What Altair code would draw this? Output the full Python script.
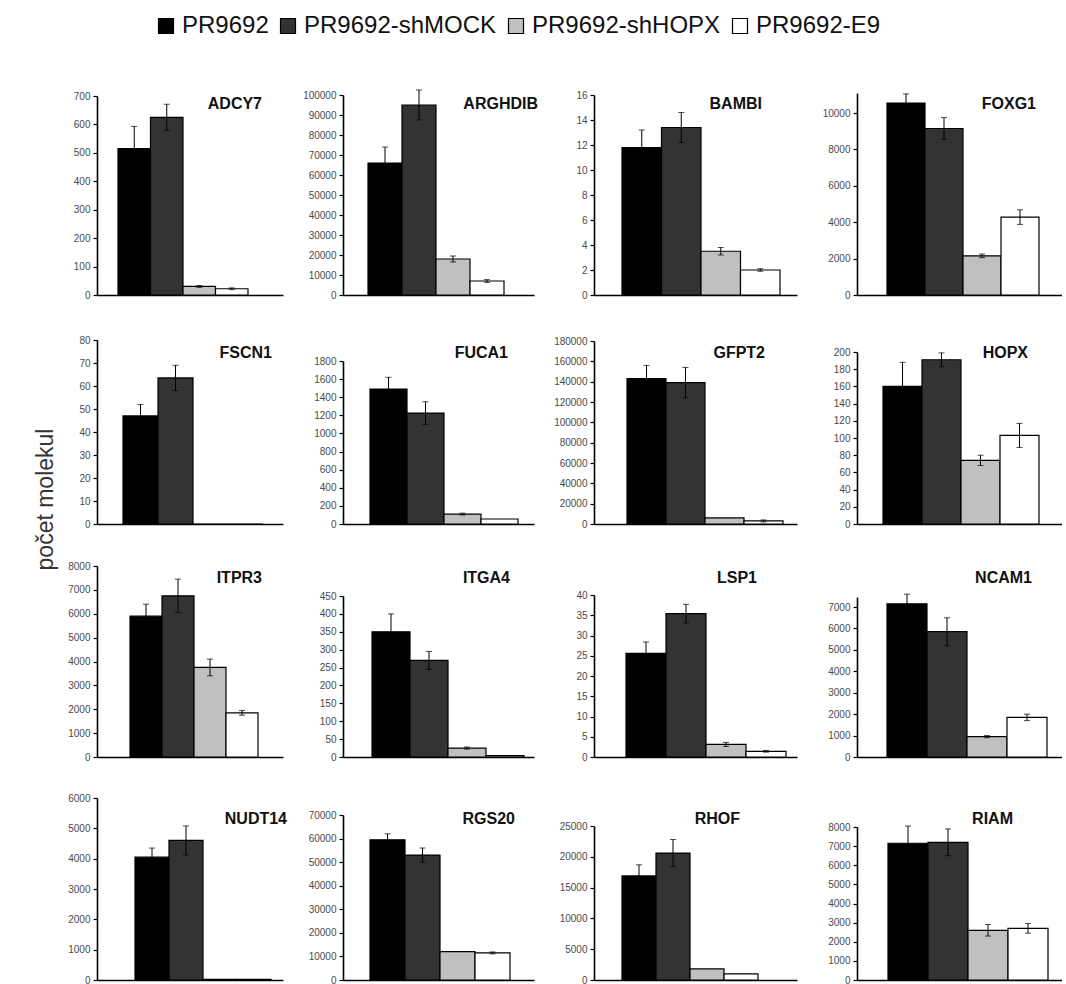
import altair as alt
import pandas as pd

# ---- data -------------------------------------------------------------
groups = ["PR9692", "PR9692-shMOCK", "PR9692-shHOPX", "PR9692-E9"]
fill_colors = ["#000000", "#333333", "#c0c0c0", "#ffffff"]

gene_rows = [
    ["ADCY7", "ARGHDIB", "BAMBI", "FOXG1"],
    ["FSCN1", "FUCA1", "GFPT2", "HOPX"],
    ["ITPR3", "ITGA4", "LSP1", "NCAM1"],
    ["NUDT14", "RGS20", "RHOF", "RIAM"],
]

# mean number of molecules per cell line (order as in `groups`)
means = {
    "ADCY7": [515, 625, 30, 22],
    "ARGHDIB": [66000, 95000, 18000, 7000],
    "BAMBI": [11.8, 13.4, 3.5, 2.0],
    "FOXG1": [10550, 9150, 2150, 4280],
    "FSCN1": [47, 63.5, 0, 0],
    "FUCA1": [1490, 1225, 110, 55],
    "GFPT2": [143000, 139000, 6000, 3000],
    "HOPX": [160, 191, 74, 103],
    "ITPR3": [5900, 6750, 3750, 1850],
    "ITGA4": [350, 270, 25, 4],
    "LSP1": [25.6, 35.4, 3.1, 1.4],
    "NCAM1": [7150, 5850, 950, 1850],
    "NUDT14": [4050, 4600, 20, 20],
    "RGS20": [59500, 53000, 12000, 11500],
    "RHOF": [16900, 20600, 1800, 1000],
    "RIAM": [7150, 7200, 2600, 2700],
}

# standard deviations
errors = {
    "ADCY7": [78, 46, 3, 3],
    "ARGHDIB": [8000, 7500, 1500, 700],
    "BAMBI": [1.4, 1.2, 0.3, 0.1],
    "FOXG1": [500, 600, 100, 400],
    "FSCN1": [5, 5.5, 0, 0],
    "FUCA1": [130, 125, 10, 0],
    "GFPT2": [13000, 15000, 0, 1000],
    "HOPX": [28, 8, 6, 14],
    "ITPR3": [500, 700, 350, 100],
    "ITGA4": [50, 25, 3, 0],
    "LSP1": [2.8, 2.3, 0.5, 0.2],
    "NCAM1": [450, 650, 50, 150],
    "NUDT14": [300, 480, 0, 0],
    "RGS20": [2500, 3000, 0, 400],
    "RHOF": [1800, 2200, 0, 0],
    "RIAM": [900, 700, 300, 250],
}

# y axis extent and tick spacing
axis_max = {
    "ADCY7": 700, "ARGHDIB": 100000, "BAMBI": 16, "FOXG1": 11100,
    "FSCN1": 80, "FUCA1": 1800, "GFPT2": 180000, "HOPX": 200,
    "ITPR3": 8000, "ITGA4": 450, "LSP1": 40, "NCAM1": 7470,
    "NUDT14": 6000, "RGS20": 70000, "RHOF": 25000, "RIAM": 8000,
}
tick_step = {
    "ADCY7": 100, "ARGHDIB": 10000, "BAMBI": 2, "FOXG1": 2000,
    "FSCN1": 10, "FUCA1": 200, "GFPT2": 20000, "HOPX": 20,
    "ITPR3": 1000, "ITGA4": 50, "LSP1": 5, "NCAM1": 1000,
    "NUDT14": 1000, "RGS20": 10000, "RHOF": 5000, "RIAM": 1000,
}

# ---- layout -----------------------------------------------------------
col_widths = [186, 191, 203, 205]
row_heights = [205, 209, 213, 203]
col_gap = 60
row_gap = 20
label_y = [14, 38, 34, 42]          # gene name position below the cell top

# plot height of each panel (px)
plot_h = {
    "ADCY7": 199, "ARGHDIB": 200, "BAMBI": 200, "FOXG1": 202,
    "FSCN1": 184, "FUCA1": 163, "GFPT2": 183, "HOPX": 172,
    "ITPR3": 191, "ITGA4": 161, "LSP1": 162, "NCAM1": 160,
    "NUDT14": 182, "RGS20": 165, "RHOF": 154, "RIAM": 153,
}
# first bar offset and bar width (px)
bar_start = {
    "ADCY7": 21, "ARGHDIB": 25, "BAMBI": 28, "FOXG1": 30,
    "FSCN1": 26, "FUCA1": 27, "GFPT2": 33, "HOPX": 26,
    "ITPR3": 33, "ITGA4": 29, "LSP1": 32, "NCAM1": 30,
    "NUDT14": 38, "RGS20": 27, "RHOF": 28, "RIAM": 31,
}
bar_width = {
    "ADCY7": 32.5, "ARGHDIB": 34, "BAMBI": 39.5, "FOXG1": 38,
    "FSCN1": 35, "FUCA1": 37, "GFPT2": 39, "HOPX": 39,
    "ITPR3": 32, "ITGA4": 38, "LSP1": 40, "NCAM1": 40,
    "NUDT14": 34, "RGS20": 35, "RHOF": 34, "RIAM": 40,
}
# right edge of the gene name (px from the plot's left edge)
label_x = {
    "ADCY7": 165, "ARGHDIB": 195, "BAMBI": 168, "FOXG1": 179,
    "FSCN1": 175, "FUCA1": 165, "GFPT2": 171, "HOPX": 171,
    "ITPR3": 165, "ITGA4": 167, "LSP1": 163, "NCAM1": 175,
    "NUDT14": 190, "RGS20": 172, "RHOF": 146, "RIAM": 156,
}

FONT = "Liberation Sans"

legend = alt.Legend(
    orient="none", legendX=57, legendY=-76, direction="horizontal",
    title=None, symbolType="square", symbolSize=225,
    symbolStrokeColor="black", symbolStrokeWidth=1.2, symbolOpacity=1,
    labelFont=FONT, labelFontSize=24, labelColor="#111111",
    labelOffset=4, columnPadding=7, labelLimit=400,
)
color_scale = alt.Scale(domain=groups, range=fill_colors)


def panel(gene, row, col):
    W = col_widths[col]
    H = row_heights[row]
    h = plot_h[gene]
    bw = max(bar_width[gene], W / 6.0)
    pad_outer = min(1.0, (W / bw - 4) / 2)
    bw = W / (4 + 2 * pad_outer)
    spare = W - 4 * bw
    align = min(1.0, max(0.0, bar_start[gene] / spare)) if spare > 0 else 0.5

    df = pd.DataFrame({"group": groups, "mean": means[gene], "err": errors[gene]})
    df["lo"] = df["mean"] - df["err"]
    df["hi"] = df["mean"] + df["err"]
    err_df = df[df["err"] > 0]

    top = axis_max[gene]
    step = tick_step[gene]
    ticks = list(range(0, int(top) + 1, step))

    x_scale = alt.Scale(domain=groups, paddingInner=0, paddingOuter=pad_outer, align=align)
    x_axis = alt.Axis(labels=False, ticks=False, title=None, grid=False,
                      domainColor="black", domainWidth=1.6)
    y_scale = alt.Scale(domain=[0, top], range=[H, H - h], nice=False, zero=True)
    y_axis = alt.Axis(
        values=ticks, format="d", title=None, grid=False,
        domainColor="black", domainWidth=1.6, tickColor="black", tickWidth=1.2,
        tickSize=4, labelFont=FONT, labelFontSize=10, labelColor="#4a4a4a",
        labelPadding=3,
    )

    def xenc():
        return alt.X("group:N", scale=x_scale, axis=x_axis, sort=groups)

    bars = alt.Chart(df).mark_bar(stroke="black", strokeWidth=1.2).encode(
        x=xenc(),
        y=alt.Y("mean:Q", scale=y_scale, axis=y_axis),
        color=alt.Color("group:N", scale=color_scale, legend=legend, sort=groups),
    )
    whisker = alt.Chart(err_df).mark_rule(color="black", strokeWidth=1).encode(
        x=xenc(),
        y=alt.Y("lo:Q", scale=y_scale, axis=y_axis),
        y2="hi:Q",
    )
    cap_hi = alt.Chart(err_df).mark_tick(color="black", size=6, thickness=1, orient="horizontal").encode(
        x=xenc(),
        y=alt.Y("hi:Q", scale=y_scale, axis=y_axis),
    )
    cap_lo = alt.Chart(err_df).mark_tick(color="black", size=6, thickness=1, orient="horizontal").encode(
        x=xenc(),
        y=alt.Y("lo:Q", scale=y_scale, axis=y_axis),
    )
    name = alt.Chart(pd.DataFrame({"gene": [gene]})).mark_text(
        font=FONT, fontSize=16, fontWeight="bold", align="right", baseline="middle", color="#111111",
    ).encode(
        text="gene:N",
        x=alt.value(label_x[gene]),
        y=alt.value(label_y[row]),
    )
    return alt.layer(bars, whisker, cap_hi, cap_lo, name).properties(width=W, height=H)


panels = [panel(g, r, c) for r, genes in enumerate(gene_rows) for c, g in enumerate(genes)]

chart = (
    alt.concat(
        *panels, columns=4, spacing={"row": row_gap, "column": col_gap},
        bounds="flush", align="each",
        title=alt.TitleParams(
            text="počet molekul", orient="left", anchor="middle",
            font=FONT, fontSize=23, fontWeight="normal", color="#333333", offset=10,
        ),
    )
    .resolve_scale(x="independent", y="independent", color="shared")
    .properties(
        padding={"left": 34, "top": 14, "right": 0, "bottom": 0},
        background="white",
    )
    .configure_view(strokeWidth=0, stroke="transparent")
)

chart.save("out.html", embed_options={"renderer": "svg", "actions": False})
